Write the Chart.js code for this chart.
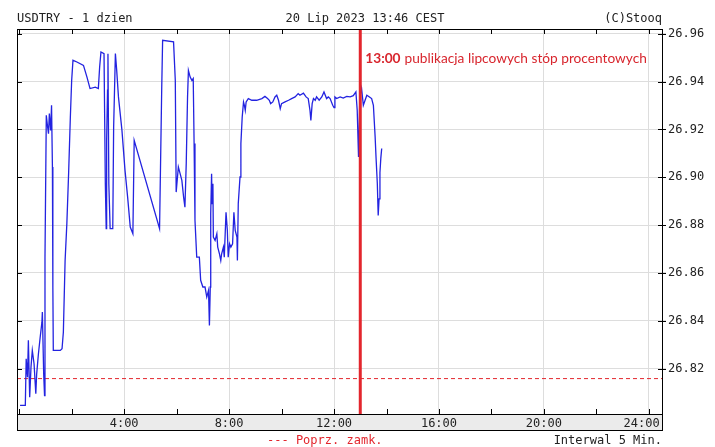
<!DOCTYPE html>
<html>
<head>
<meta charset="utf-8">
<script src="https://cdn.jsdelivr.net/npm/chart.js@4.4.0/dist/chart.umd.min.js"></script>
<style>
  html, body { margin: 0; padding: 0; background: #fff; }
  canvas { display: block; }
</style>
</head>
<body>
<canvas id="chart" width="715" height="447"></canvas>
<script>
// minutes after midnight, 5 min bars
const minutes = [
  2, 14, 16, 19, 21, 24, 27, 30, 34, 38,
  40, 44, 48, 52, 53, 56, 58, 59, 62, 65,
  67, 69, 72, 74, 76, 77, 78, 94, 98, 101,
  105, 109, 113, 117, 120, 123, 132, 147, 155, 162,
  174, 181, 184, 187, 194, 197, 199, 200, 202, 203,
  205, 208, 214, 216, 220, 223, 227, 235, 242, 248,
  254, 260, 263, 321, 326, 328, 353, 357, 359, 364,
  368, 372, 376, 379, 382, 385, 387, 391, 395, 398,
  400, 402, 406, 412, 415, 420, 425, 429, 433, 435,
  437, 438, 440, 441, 443, 444, 448, 452, 454, 458,
  461, 463, 467, 469, 473, 476, 478, 481, 484, 488,
  491, 494, 498, 499, 501, 505, 507, 510, 513, 515,
  517, 519, 524, 532, 543, 555, 562, 568, 572, 575,
  580, 585, 589, 593, 597, 600, 608, 616, 623, 631,
  638, 642, 650, 656, 661, 665, 667, 670, 673, 677,
  680, 686, 692, 697, 703, 707, 711, 717, 720, 722,
  726, 734, 741, 749, 757, 764, 770, 773, 776, 779,
  783, 787, 791, 795, 801, 806, 810, 814, 816, 819,
  821, 823, 825, 827, 829
];

const prices = [
  26.8046, 26.8046, 26.8241, 26.8164, 26.8318, 26.8080, 26.8206, 26.8276, 26.8220, 26.8095,
  26.8178, 26.8262, 26.8331, 26.8394, 26.8436, 26.8178, 26.8087, 26.8666, 26.9259, 26.9210,
  26.9182, 26.9266, 26.9196, 26.9301, 26.9043, 26.8541, 26.8276, 26.8276, 26.8283, 26.8352,
  26.8652, 26.8806, 26.9015, 26.9252, 26.9405, 26.9489, 26.9482, 26.9468, 26.9419, 26.9371,
  26.9377, 26.9371, 26.9461, 26.9524, 26.9517, 26.8973, 26.8785, 26.9154, 26.9364, 26.9517,
  26.8973, 26.8785, 26.8785, 26.9210, 26.9517, 26.9447, 26.9336, 26.9196, 26.9029, 26.8917,
  26.8792, 26.8764, 26.9154, 26.8785, 26.9377, 26.9573, 26.9566, 26.9405, 26.8938, 26.9043,
  26.9015, 26.8987, 26.8917, 26.8875, 26.9057, 26.9336, 26.9447, 26.9419, 26.9405, 26.9413,
  26.9141, 26.8820, 26.8666, 26.8666, 26.8569, 26.8541, 26.8541, 26.8499, 26.8527, 26.8380,
  26.8541, 26.8848, 26.9015, 26.8890, 26.8973, 26.8750, 26.8736, 26.8764, 26.8708, 26.8680,
  26.8652, 26.8680, 26.8708, 26.8666, 26.8854, 26.8778, 26.8666, 26.8722, 26.8708, 26.8722,
  26.8854, 26.8778, 26.8750, 26.8652, 26.8890, 26.9001, 26.9141, 26.9252, 26.9315, 26.9301,
  26.9280, 26.9315, 26.9329, 26.9322, 26.9322, 26.9329, 26.9338, 26.9329, 26.9322, 26.9308,
  26.9315, 26.9336, 26.9343, 26.9322, 26.9287, 26.9308, 26.9315, 26.9322, 26.9329, 26.9336,
  26.9350, 26.9343, 26.9352, 26.9336, 26.9329, 26.9280, 26.9238, 26.9308, 26.9329, 26.9322,
  26.9336, 26.9322, 26.9336, 26.9357, 26.9329, 26.9336, 26.9329, 26.9301, 26.9291, 26.9336,
  26.9329, 26.9336, 26.9331, 26.9338, 26.9336, 26.9341, 26.9357, 26.9280, 26.9085, 26.9336,
  26.9371, 26.9301, 26.9322, 26.9343, 26.9336, 26.9329, 26.9301, 26.9168, 26.9085, 26.8973,
  26.8840, 26.8910, 26.9020, 26.9080, 26.9120
];

const prevClose = 26.8158;
const eventMinute = 780; // 13:00
const xTicks = [240, 480, 720, 960, 1200, 1440];
const xMinorTicks = [0, 120, 240, 360, 480, 600, 720, 840, 960, 1080, 1200, 1320, 1440];
const yTicks = [26.82, 26.84, 26.86, 26.88, 26.90, 26.92, 26.94, 26.96];
const xMin = -5, xMax = 1470;
const yMin = 26.801, yMax = 26.962;

const MONO = '"DejaVu Sans Mono", monospace';
const RED = '#e3262d';

const stooqFrame = {
  id: 'stooqFrame',
  beforeDraw(chart) {
    const { ctx, chartArea: a } = chart;
    ctx.save();
    ctx.fillStyle = '#fff';
    ctx.fillRect(0, 0, chart.width, chart.height);
    ctx.fillStyle = '#ebebeb';
    ctx.fillRect(a.left, a.bottom, a.right - a.left, 16);
    ctx.restore();
  },
  afterDraw(chart) {
    const { ctx, chartArea: a } = chart;
    const xs = chart.scales.x, ys = chart.scales.y;
    ctx.save();
    ctx.strokeStyle = '#000';
    ctx.lineWidth = 1;
    ctx.strokeRect(a.left + 0.5, a.top + 0.5, a.right - a.left, a.bottom + 16 - a.top);
    ctx.beginPath();
    ctx.moveTo(a.left, a.bottom + 0.5);
    ctx.lineTo(a.right, a.bottom + 0.5);
    // small ticks, top and bottom, every 2 hours
    xMinorTicks.forEach(m => {
      const px = Math.round(xs.getPixelForValue(m)) + 0.5;
      ctx.moveTo(px, a.top); ctx.lineTo(px, a.top + 5);
      ctx.moveTo(px, a.bottom); ctx.lineTo(px, a.bottom - 5);
    });
    // value ticks on both edges
    yTicks.forEach(v => {
      const py = Math.round(ys.getPixelForValue(v)) + 0.5;
      ctx.moveTo(a.left, py); ctx.lineTo(a.left + 5, py);
      ctx.moveTo(a.right - 4, py); ctx.lineTo(a.right + 4, py);
    });
    ctx.stroke();

    // header
    ctx.fillStyle = '#222';
    ctx.font = '12px ' + MONO;
    ctx.textBaseline = 'alphabetic';
    ctx.textAlign = 'left';
    ctx.fillText('USDTRY - 1 dzien', 17, 22);
    ctx.textAlign = 'center';
    ctx.fillText('20 Lip 2023 13:46 CEST', 365, 22);
    ctx.textAlign = 'right';
    ctx.fillText('(C)Stooq', 662, 22);

    // footer
    ctx.fillText('Interwal 5 Min.', 662, 444);
    ctx.textAlign = 'left';
    ctx.fillStyle = RED;
    ctx.fillText('--- Poprz. zamk.', 267, 444);

    // event note
    const ex = xs.getPixelForValue(eventMinute) + 5;
    ctx.fillStyle = '#d8262e';
    ctx.font = 'bold 13.7px Lato, "Liberation Sans", sans-serif';
    ctx.fillText('13:00', ex, 63);
    const w = ctx.measureText('13:00').width + 4;
    ctx.font = '13.7px Lato, "Liberation Sans", sans-serif';
    ctx.fillText('publikacja lipcowych stóp procentowych', ex + w, 63);
    ctx.restore();
  }
};

new Chart(document.getElementById('chart').getContext('2d'), {
  type: 'line',
  data: {
    datasets: [
      {
        label: 'Poprz. zamk.',
        data: [{ x: xMin, y: prevClose }, { x: xMax, y: prevClose }],
        borderColor: RED,
        borderWidth: 1,
        borderDash: [4, 3],
        pointRadius: 0,
        order: 3
      },
      {
        label: 'USDTRY',
        data: minutes.map((m, i) => ({ x: m, y: prices[i] })),
        borderColor: '#2323e0',
        borderWidth: 1.3,
        pointRadius: 0,
        tension: 0,
        order: 2
      },
      {
        label: '13:00',
        data: [{ x: eventMinute, y: yMin }, { x: eventMinute, y: yMax }],
        borderColor: RED,
        borderWidth: 3,
        pointRadius: 0,
        order: 1
      }
    ]
  },
  options: {
    responsive: false,
    animation: false,
    devicePixelRatio: 1,
    layout: { padding: { left: 17, top: 29, right: 0, bottom: 0 } },
    plugins: {
      legend: { display: false },
      tooltip: { enabled: false },
      title: { display: false }
    },
    scales: {
      x: {
        type: 'linear',
        min: xMin,
        max: xMax,
        afterBuildTicks: s => { s.ticks = xTicks.map(v => ({ value: v })); },
        afterFit: s => { s.height = 33; },
        ticks: {
          autoSkip: false,
          maxRotation: 0,
          padding: 3,
          color: '#222',
          font: { family: MONO, size: 12 },
          // last label kept inside the frame
          callback: v => (v / 60) + ':00' + (v === 1440 ? '  ' : '')
        },
        grid: { color: '#dddddd', drawTicks: false, lineWidth: 1 },
        border: { display: false }
      },
      y: {
        position: 'right',
        min: yMin,
        max: yMax,
        afterBuildTicks: s => { s.ticks = yTicks.map(v => ({ value: v })); },
        afterFit: s => { s.width = 53; },
        ticks: {
          padding: 2,
          color: '#222',
          font: { family: MONO, size: 12 },
          callback: v => v.toFixed(2)
        },
        grid: { color: '#dddddd', drawTicks: true, tickLength: 4, lineWidth: 1 },
        border: { display: false }
      }
    }
  },
  plugins: [stooqFrame]
});
</script>
</body>
</html>
